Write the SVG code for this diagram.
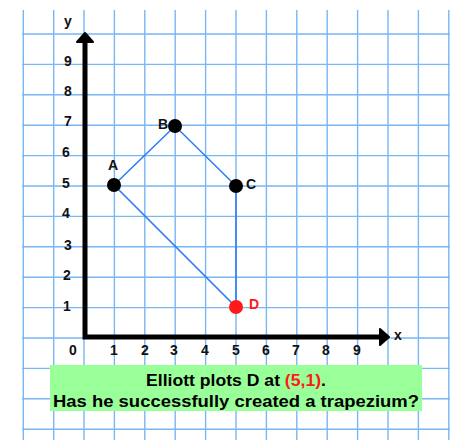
<svg xmlns="http://www.w3.org/2000/svg" width="450" height="440" viewBox="0 0 450 440">
<style>
.g{stroke:#78b6f6;stroke-width:1.4;fill:none}
.ax{stroke:#000;stroke-width:5;fill:none}
.n{font-family:"Liberation Sans",Arial,sans-serif;font-size:14px;font-weight:bold;fill:#111;text-anchor:middle}
.lb{font-family:"Liberation Sans",Arial,sans-serif;font-size:14px;font-weight:bold;fill:#111}
.edge{stroke:#2f7df6;stroke-width:1.6;fill:none}
.pt{fill:#000}
.q{font-family:"Liberation Sans",Arial,sans-serif;font-size:17px;font-weight:bold;fill:#000;text-anchor:middle}
</style>
<rect width="450" height="440" fill="#fff"/>
<g id="grid">
<path class="g" d="M23.3 10V440M53.7 10V440M84 10V440M114.4 10V440M144.8 10V440M175.2 10V440M205.6 10V440M236 10V440M266.4 10V440M296.8 10V440M327.2 10V440M357.6 10V440M388 10V440M418.4 10V440M448.8 10V440"/>
<path class="g" d="M22 34H450M22 64.4H450M22 94.8H450M22 125.2H450M22 155.6H450M22 186H450M22 216.4H450M22 246.8H450M22 277.2H450M22 307.6H450M22 338H450M22 368.4H450M22 398.8H450M22 429.2H450"/>
</g>
<g id="axes">
<path class="ax" d="M85 338V42M82.5 337H381"/>
<path d="M85 33L77 42L93 42Z" fill="#000" stroke="#000" stroke-width="2" stroke-linejoin="round"/>
<path d="M389 337L380 329L380 345Z" fill="#000" stroke="#000" stroke-width="2" stroke-linejoin="round"/>
<text class="lb" x="64" y="26" font-size="15">y</text>
<text class="lb" x="394" y="340" font-size="15">x</text>
<text class="n" x="68" y="66">9</text>
<text class="n" x="68" y="96">8</text>
<text class="n" x="68" y="126">7</text>
<text class="n" x="66" y="157">6</text>
<text class="n" x="66" y="188">5</text>
<text class="n" x="66" y="218">4</text>
<text class="n" x="68" y="250">3</text>
<text class="n" x="67" y="280">2</text>
<text class="n" x="67" y="311">1</text>
<text class="n" x="73" y="355">0</text>
<text class="n" x="114" y="355">1</text>
<text class="n" x="145" y="355">2</text>
<text class="n" x="174" y="355">3</text>
<text class="n" x="205" y="355">4</text>
<text class="n" x="236" y="355">5</text>
<text class="n" x="266" y="355">6</text>
<text class="n" x="296" y="355">7</text>
<text class="n" x="326" y="355">8</text>
<text class="n" x="357" y="355">9</text>
</g>
<g id="connectors">
<path class="edge" d="M114 185L175 126L236 186L236 307Z"/>
</g>
<g id="A"><circle class="pt" cx="114" cy="185" r="7"/><text class="lb" x="108" y="170">A</text></g>
<g id="B"><circle class="pt" cx="175" cy="126" r="7"/><text class="lb" x="158" y="129">B</text></g>
<g id="C"><circle class="pt" cx="236" cy="186" r="7"/><text class="lb" x="246" y="189">C</text></g>
<g id="D"><circle cx="236" cy="307" r="7" fill="#ff1a1a"/><text class="lb" x="249" y="309" style="fill:#ff1a1a">D</text></g>
<g id="caption">
<rect x="50" y="365" width="372" height="46" fill="#99ff99"/>
<text class="q" x="236" y="386" textLength="180" lengthAdjust="spacingAndGlyphs">Elliott plots D at <tspan fill="#ff1a1a">(5,1)</tspan>.</text>
<text class="q" x="236" y="407" textLength="366" lengthAdjust="spacingAndGlyphs">Has he successfully created a trapezium?</text>
</g>
</svg>
